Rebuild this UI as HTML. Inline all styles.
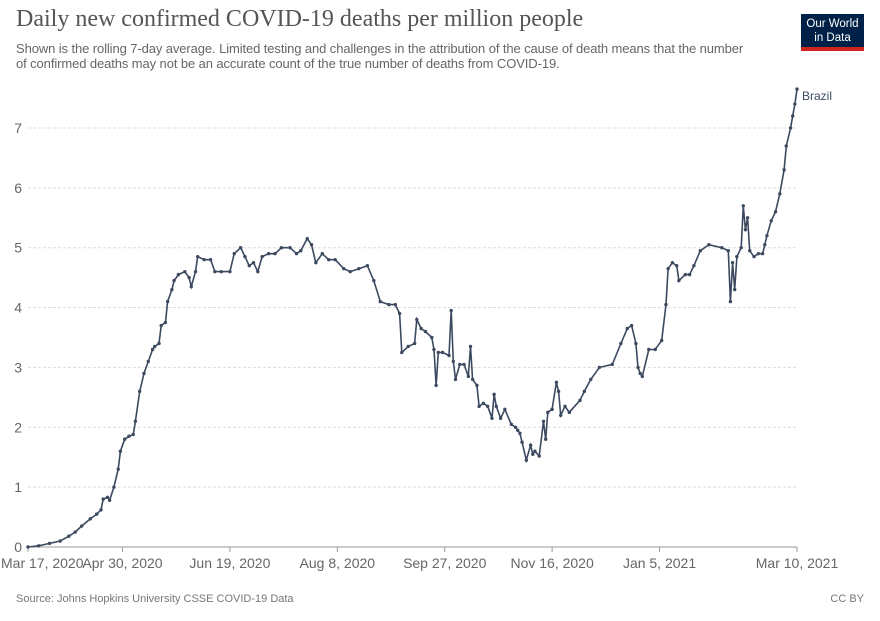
<!DOCTYPE html>
<html><head><meta charset="utf-8"><style>
body{margin:0;background:#fff;font-family:"Liberation Sans",sans-serif;}
#wrap{position:relative;width:880px;height:621px;overflow:hidden}
h1{position:absolute;left:16px;top:6px;margin:0;font-family:"Liberation Serif",serif;font-weight:normal;font-size:24px;color:#555}
.sub{position:absolute;left:16px;top:41px;width:860px;font-size:13px;line-height:15px;color:#666;letter-spacing:-0.1px;white-space:nowrap}
.logo{position:absolute;left:801px;top:14px;width:63px;height:37px;background:#002147;color:#fff;font-size:11.5px;line-height:14px;text-align:center;padding-top:3px;box-sizing:border-box;border-bottom:4px solid #ce261e}
.foot{position:absolute;top:593px;font-size:11px;color:#777}
</style></head><body>
<div id="wrap">
<h1>Daily new confirmed COVID-19 deaths per million people</h1>
<div class="sub">Shown is the rolling 7-day average. Limited testing and challenges in the attribution of the cause of death means that the number<br>of confirmed deaths may not be an accurate count of the true number of deaths from COVID-19.</div>
<div class="logo">Our World<br>in Data</div>
<svg id="svg" width="880" height="621" style="position:absolute;left:0;top:0"></svg>
<div class="foot" style="left:16px">Source: Johns Hopkins University CSSE COVID-19 Data</div>
<div class="foot" style="right:16px">CC BY</div>
</div>
<script>
const days=[0,5,10,15,19,22,25,29,32,34,35,37,38,40,42,43,45,47,49,50,52,54,56,58,59,61,62,64,65,67,68,70,73,75,76,78,79,82,85,87,90,94,96,99,101,103,105,107,109,112,115,118,122,125,127,130,132,134,137,140,143,147,150,154,158,161,164,168,171,173,174,177,180,181,183,185,188,189,190,191,193,196,197,198,199,201,203,205,206,207,209,210,212,214,216,217,218,220,222,225,227,228,229,230,232,234,235,236,238,240,241,242,244,246,247,248,250,252,257,259,262,266,272,276,279,281,283,284,285,286,289,292,295,297,298,300,302,303,306,308,310,313,317,323,326,327,328,329,330,332,333,334,335,336,338,340,342,343,344,346,348,350,352,353,355,356,357,358];
const vals=[0,0.02,0.06,0.1,0.18,0.25,0.35,0.47,0.55,0.62,0.8,0.83,0.78,1.0,1.3,1.6,1.8,1.85,1.88,2.1,2.6,2.9,3.1,3.3,3.35,3.4,3.7,3.75,4.1,4.3,4.45,4.55,4.6,4.5,4.35,4.6,4.85,4.8,4.8,4.6,4.6,4.6,4.9,5.0,4.85,4.7,4.75,4.6,4.85,4.9,4.9,5.0,5.0,4.9,4.95,5.15,5.05,4.75,4.9,4.8,4.8,4.65,4.6,4.65,4.7,4.45,4.1,4.05,4.05,3.9,3.25,3.35,3.4,3.8,3.65,3.6,3.5,3.3,2.7,3.25,3.25,3.2,3.95,3.1,2.8,3.05,3.05,2.85,3.35,2.8,2.7,2.35,2.4,2.35,2.15,2.55,2.35,2.15,2.3,2.05,2.0,1.95,1.9,1.75,1.45,1.7,1.55,1.6,1.52,2.1,1.8,2.25,2.3,2.75,2.6,2.2,2.35,2.25,2.45,2.6,2.8,3.0,3.05,3.4,3.65,3.7,3.4,3.0,2.9,2.85,3.3,3.3,3.45,4.05,4.65,4.75,4.7,4.45,4.55,4.55,4.7,4.95,5.05,5.0,4.95,4.1,4.75,4.3,4.85,5.0,5.7,5.3,5.5,4.95,4.85,4.9,4.9,5.05,5.2,5.45,5.6,5.9,6.3,6.7,7.0,7.2,7.4,7.65];
const yTicks=[0,1,2,3,4,5,6,7];
const xTickDays=[0,44,94,144,194,244,294,358];
const xTickLabels=["Mar 17, 2020","Apr 30, 2020","Jun 19, 2020","Aug 8, 2020","Sep 27, 2020","Nov 16, 2020","Jan 5, 2021","Mar 10, 2021"];
const X0=28,X1=797,Y0=547,PPU=59.86,DMAX=358;
const xs=d=>X0+(X1-X0)*d/DMAX, ys=v=>Y0-v*PPU;
const svg=document.getElementById('svg'),NS='http://www.w3.org/2000/svg';
function mk(t,a){const e=document.createElementNS(NS,t);for(const k in a)e.setAttribute(k,a[k]);svg.appendChild(e);return e;}
yTicks.forEach(v=>{
 if(v>0){const g=mk('line',{x1:X0,x2:X1,y1:ys(v),y2:ys(v),stroke:'#ddd','stroke-dasharray':'3,2'});
 
 }
 const t=mk('text',{x:22,y:ys(v)+5,'text-anchor':'end','font-size':14,fill:'#666','font-family':'Liberation Sans'});
 t.textContent=v;
 
 
});
const ax=mk('line',{x1:X0,x2:X1,y1:Y0,y2:Y0,stroke:'#999'});


xTickDays.forEach((d,i)=>{
 const tk=mk('line',{x1:xs(d),x2:xs(d),y1:Y0,y2:Y0+5,stroke:'#999'});
 
 
 const t=mk('text',{x:i==0?X0-27:xs(d),y:568,'text-anchor':i==0?'start':'middle','font-size':14,fill:'#666','font-family':'Liberation Sans'});
 t.textContent=xTickLabels[i];
 
 
});
const n=Math.min(days.length,vals.length);
const pts=[];for(let i=0;i<n;i++)pts.push(xs(days[i]).toFixed(1)+','+ys(vals[i]).toFixed(1));
const pl=mk('polyline',{points:pts.join(' '),fill:'none',stroke:'#3c4a60','stroke-width':1.6});


for(let i=0;i<n;i++){const c=mk('circle',{cx:xs(days[i]),cy:ys(vals[i]),r:1.7,fill:'#3c4a60'});
 
 }
const lb=mk('text',{x:802,y:ys(vals[n-1])+11,'font-size':12,fill:'#3c4a60','font-family':'Liberation Sans'});
lb.textContent='Brazil';


</script>
</body></html>
